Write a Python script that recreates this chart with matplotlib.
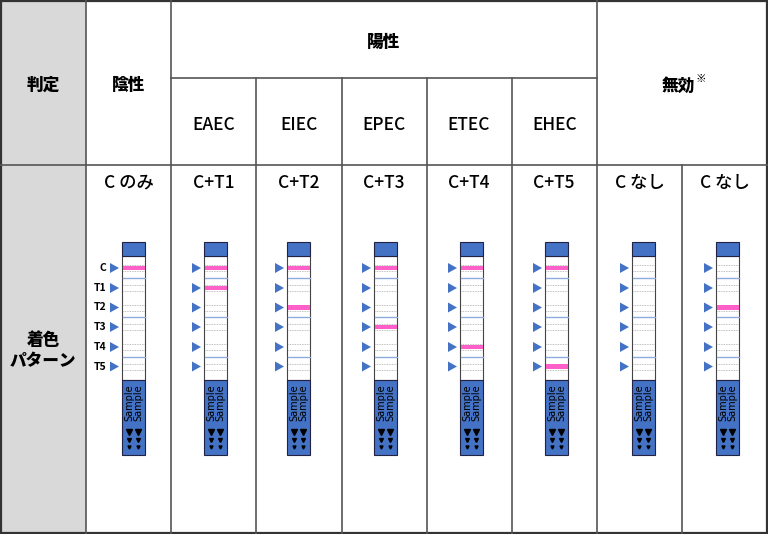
import matplotlib.pyplot as plt
from matplotlib.patches import Rectangle, Polygon

plt.rcParams['font.family'] = ['Noto Sans CJK JP', 'DejaVu Sans']

# table contents
judge_label = "判定"
negative_label = "陰性"
positive_label = "陽性"
invalid_label = "無効"
types = ["EAEC", "EIEC", "EPEC", "ETEC", "EHEC"]
patterns = ["C のみ", "C+T1", "C+T2", "C+T3", "C+T4", "C+T5", "C なし", "C なし"]
line_names = ["C", "T1", "T2", "T3", "T4", "T5"]
# which lines turn pink in each column (index into line_names)
bands = [[0], [0, 1], [0, 2], [0, 3], [0, 4], [0, 5], [], [2]]

# layout in pixels
col_x = [86, 171, 256, 341.5, 426.5, 511.5, 597, 682, 767]
strip_left = [122, 204, 287, 374, 460, 545, 632, 716]
line_y = [268, 288, 307.5, 327, 347, 366.5]
blue_y = [278, 317, 357]

GRID = "#555555"
BLUE = "#4472c4"
PINK = "#ff5fc8"

fig = plt.figure(figsize=(7.68, 5.34), dpi=100)
ax = fig.add_axes([0, 0, 1, 1])
ax.set_xlim(0, 768)
ax.set_ylim(534, 0)
ax.axis("off")

# grey header column
ax.add_patch(Rectangle((0, 0), 86, 534, color="#d9d9d9", lw=0))

lw = 1.2
ax.plot([0, 768], [165, 165], color=GRID, lw=lw)
ax.plot([171, 597], [78, 78], color=GRID, lw=lw)
for x in [86, 171, 597]:
    ax.plot([x, x], [0, 534], color=GRID, lw=lw)
for x in col_x[2:6]:
    ax.plot([x, x], [78, 534], color=GRID, lw=lw)
ax.plot([682, 682], [165, 534], color=GRID, lw=lw)
ax.add_patch(Rectangle((1, 1), 766, 532, fill=False, ec="#333333", lw=1.6))

# header texts
hkw = dict(ha="center", va="center", fontsize=12, fontweight="heavy", color="black")
ax.text(43, 85, judge_label, **hkw)
ax.text(128.5, 85, negative_label, **hkw)
ax.text(384, 42, positive_label, **hkw)
ax.text(678, 86, invalid_label, **hkw)
ax.text(701, 79, "※", ha="center", va="center", fontsize=7.5, fontweight="heavy")
ax.text(43, 340, "着色", **hkw)
ax.text(43, 361, "パターン", **hkw)

for i, t in enumerate(types):
    cx = (col_x[i + 1] + col_x[i + 2]) / 2
    ax.text(cx, 125, t, ha="center", va="center", fontsize=12.5, fontweight="medium")

for i, p in enumerate(patterns):
    cx = (col_x[i] + col_x[i + 1]) / 2
    ax.text(cx, 183, p, ha="center", va="center", fontsize=12.5, fontweight="medium")

# strips
W = 23
for i, sx in enumerate(strip_left):
    ax.add_patch(Rectangle((sx, 242), W, 14, fc=BLUE, ec="#222244", lw=0.8, zorder=3))
    ax.add_patch(Rectangle((sx, 256), W, 124, fc="white", ec="#444444", lw=0.8, zorder=2))
    ax.add_patch(Rectangle((sx, 380), W, 75, fc=BLUE, ec="#222244", lw=0.8, zorder=3))
    for y in line_y:
        for dy in (-3, 3):
            ax.plot([sx + 1, sx + W - 1], [y + dy, y + dy], color="#aaaaaa",
                    lw=0.6, ls=(0, (1, 1)), zorder=3)
        ax.add_patch(Polygon([[sx - 12, y - 5], [sx - 12, y + 5], [sx - 3, y]],
                             closed=True, color=BLUE, lw=0, zorder=3))
    for y in blue_y:
        ax.plot([sx + 0.5, sx + W - 0.5], [y, y], color="#8faadc", lw=1.0, zorder=3)
    for k in bands[i]:
        ax.add_patch(Rectangle((sx + 0.5, line_y[k] - 2.2), W - 1, 4.4,
                               color=PINK, lw=0, zorder=4))
    for dx in (7, 16):
        ax.text(sx + dx, 403, "Sample", rotation=90, ha="center", va="center",
                fontsize=7, color="black", family="DejaVu Sans", zorder=5)
        ax.plot(sx + dx, 432, marker="v", color="black", ms=4.5, zorder=5)
        ax.plot(sx + dx, 440, marker="v", color="black", ms=2.8, zorder=5)
        ax.plot(sx + dx, 447, marker="v", color="black", ms=2.2, zorder=5)

for name, y in zip(line_names, line_y):
    ax.text(106, y, name, ha="right", va="center", fontsize=7.5, fontweight="bold")

fig.savefig("out.png", dpi=100)
